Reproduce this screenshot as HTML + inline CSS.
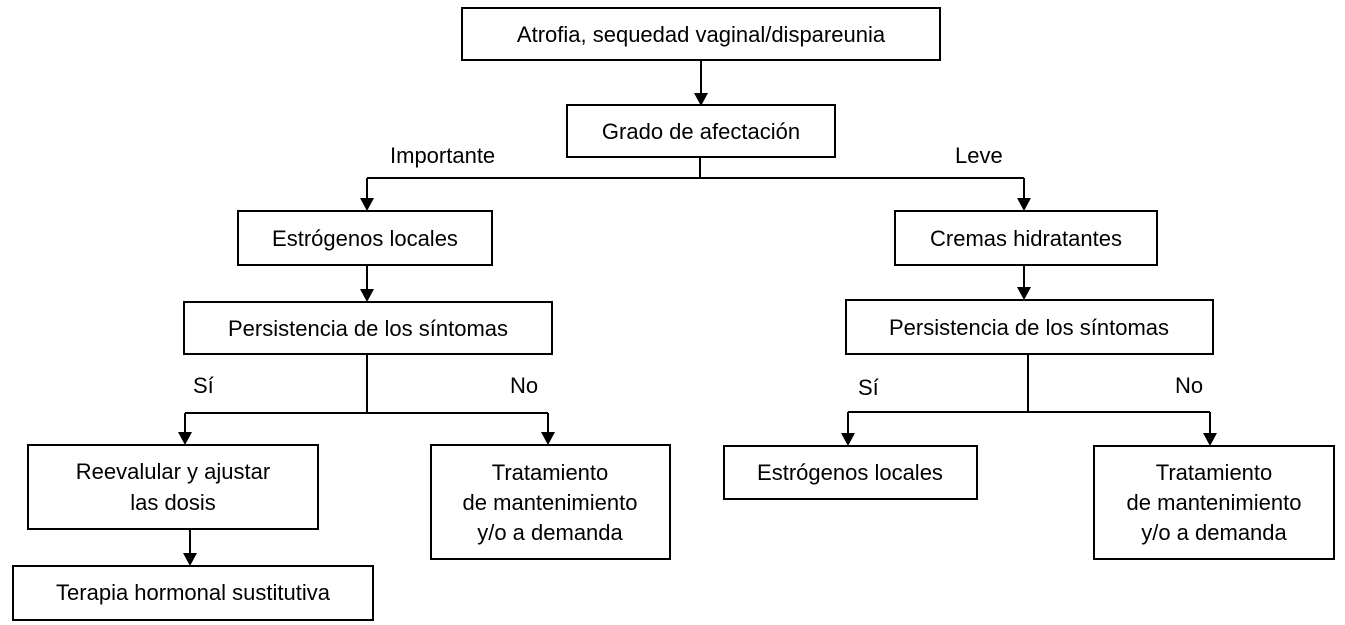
<!DOCTYPE html>
<html><head><meta charset="utf-8"><style>
html,body{margin:0;padding:0;background:#fff;}
svg{display:block;}
text{font-family:"Liberation Sans",Arial,sans-serif;font-size:22px;fill:#000;}
</style></head><body>
<svg width="1345" height="625" viewBox="0 0 1345 625" xmlns="http://www.w3.org/2000/svg">
<defs><marker id="a" markerWidth="14" markerHeight="16" refX="7" refY="16" orient="auto" markerUnits="userSpaceOnUse"><path d="M0,0 L14,0 L7,16 Z" fill="#000" transform="rotate(-90 7 8) translate(0,0)"/></marker></defs>
<g fill="none" stroke="#000" stroke-width="2">
<rect x="462" y="8" width="478" height="52"/>
<rect x="567" y="105" width="268" height="52"/>
<rect x="238" y="211" width="254" height="54"/>
<rect x="895" y="211" width="262" height="54"/>
<rect x="184" y="302" width="368" height="52"/>
<rect x="846" y="300" width="367" height="54"/>
<rect x="28" y="445" width="290" height="84"/>
<rect x="431" y="445" width="239" height="114"/>
<rect x="13" y="566" width="360" height="54"/>
<rect x="724" y="446" width="253" height="53"/>
<rect x="1094" y="446" width="240" height="113"/>
<path d="M701 60V95 M700 157V178 M367 178H1024 M367 178V200 M1024 178V200 M367 265V291 M1024 265V289 M367 354V413 M185 413H548 M185 413V434 M548 413V434 M190 529V555 M1028 354V412 M848 412H1210 M848 412V435 M1210 412V435"/>
</g>
<g fill="#000">
<path d="M694 93H708L701 106Z"/>
<path d="M360 198H374L367 211Z"/>
<path d="M1017 198H1031L1024 211Z"/>
<path d="M360 289H374L367 302Z"/>
<path d="M1017 287H1031L1024 300Z"/>
<path d="M178 432H192L185 445Z"/>
<path d="M541 432H555L548 445Z"/>
<path d="M183 553H197L190 566Z"/>
<path d="M841 433H855L848 446Z"/>
<path d="M1203 433H1217L1210 446Z"/>
</g>
<g text-anchor="middle">
<text x="701" y="42">Atrofia, sequedad vaginal/dispareunia</text>
<text x="701" y="139">Grado de afectación</text>
<text x="365" y="246">Estrógenos locales</text>
<text x="1026" y="246">Cremas hidratantes</text>
<text x="368" y="336">Persistencia de los síntomas</text>
<text x="1029" y="335">Persistencia de los síntomas</text>
<text x="173" y="479">Reevalular y ajustar</text>
<text x="173" y="510">las dosis</text>
<text x="550" y="480">Tratamiento</text>
<text x="550" y="510">de mantenimiento</text>
<text x="550" y="540">y/o a demanda</text>
<text x="193" y="600">Terapia hormonal sustitutiva</text>
<text x="850" y="480">Estrógenos locales</text>
<text x="1214" y="480">Tratamiento</text>
<text x="1214" y="510">de mantenimiento</text>
<text x="1214" y="540">y/o a demanda</text>
</g>
<text x="390" y="163">Importante</text>
<text x="955" y="163">Leve</text>
<text x="193" y="393">Sí</text>
<text x="510" y="393">No</text>
<text x="858" y="395">Sí</text>
<text x="1175" y="393">No</text>
</svg>
</body></html>
